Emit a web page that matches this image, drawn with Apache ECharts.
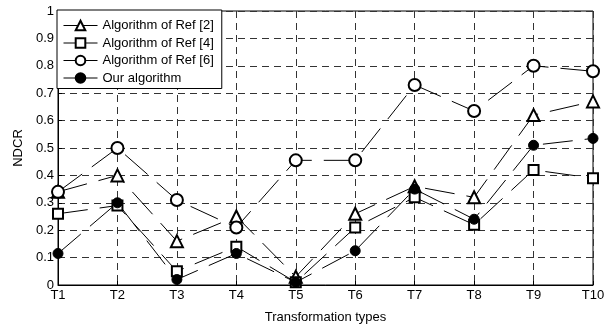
<!DOCTYPE html>
<html>
<head>
<meta charset="utf-8">
<script src="https://cdn.jsdelivr.net/npm/echarts@6/dist/echarts.min.js"></script>
<style>
html,body{margin:0;padding:0;background:#fff;}
#c{width:616px;height:329px;}
</style>
</head>
<body>
<div id="c"></div>
<script>
var categories = ['T1','T2','T3','T4','T5','T6','T7','T8','T9','T10'];
var ref2 = [0.34, 0.40, 0.16, 0.25, 0.03, 0.26, 0.36, 0.32, 0.62, 0.67];
var ref4 = [0.26, 0.29, 0.05, 0.14, 0.01, 0.21, 0.32, 0.22, 0.42, 0.39];
var ref6 = [0.34, 0.50, 0.31, 0.21, 0.455, 0.455, 0.73, 0.635, 0.80, 0.78];
var ours = [0.115, 0.30, 0.02, 0.115, 0.01, 0.125, 0.35, 0.24, 0.51, 0.535];
var names = ['Algorithm of Ref [2]','Algorithm of Ref [4]','Algorithm of Ref [6]','Our algorithm'];

var font = 'Liberation Sans, Arial, sans-serif';
function mk(name, data, symbol, size){
  return {
    name: name, type: 'line', data: data,
    symbol: symbol, symbolSize: size,
    showSymbol: true,
    itemStyle: {color: '#000', borderColor: '#000', borderWidth: 1},
    lineStyle: {color: '#000', width: 1, type: [30, 12]},
    emphasis: {disabled: true},
    animation: false
  };
}
var chart = echarts.init(document.getElementById('c'));
chart.setOption({
  backgroundColor: '#fff',
  animation: false,
  grid: {left: 58, top: 11, width: 535, height: 280, show: true, borderColor: '#000', borderWidth: 1, backgroundColor: 'transparent'},
  legend: {
    orient: 'vertical', left: 57, top: 10,
    backgroundColor: '#fff', borderColor: '#000', borderWidth: 1,
    padding: [9, 8, 4, 6],
    itemWidth: 34, itemHeight: 12, itemGap: 4.5,
    textStyle: {fontFamily: font, fontSize: 13, color: '#000'},
    lineStyle: {type: 'solid', width: 1, color: '#000'},
    data: names
  },
  xAxis: {
    type: 'category', data: categories, boundaryGap: false,
    name: 'Transformation types', nameLocation: 'middle', nameGap: 26,
    nameTextStyle: {fontFamily: font, fontSize: 13, color: '#000'},
    axisLine: {lineStyle: {color: '#000', width: 1}},
    axisTick: {inside: true, length: 4, lineStyle: {color: '#000'}},
    axisLabel: {fontFamily: font, fontSize: 13, color: '#000', margin: 4, interval: 0},
    splitLine: {show: true, lineStyle: {color: '#333', width: 1, type: [7, 5]}}
  },
  yAxis: {
    type: 'value', min: 0, max: 1, interval: 0.1,
    name: 'NDCR', nameLocation: 'middle', nameGap: 27,
    nameTextStyle: {fontFamily: font, fontSize: 13, color: '#000'},
    axisLine: {show: true, lineStyle: {color: '#000', width: 1}},
    axisTick: {show: true, inside: true, length: 4, lineStyle: {color: '#000'}},
    axisLabel: {fontFamily: font, fontSize: 13, color: '#000', margin: 4,
      formatter: function(v){ return String(Math.round(v*10)/10); }},
    splitLine: {show: true, lineStyle: {color: '#333', width: 1, type: [7, 5]}}
  },
  series: [
    mk(names[0], ref2, 'emptyTriangle', 12),
    mk(names[1], ref4, 'emptyRect', 10),
    mk(names[2], ref6, 'emptyCircle', 12),
    mk(names[3], ours, 'circle', 10)
  ]
});
</script>
</body>
</html>
